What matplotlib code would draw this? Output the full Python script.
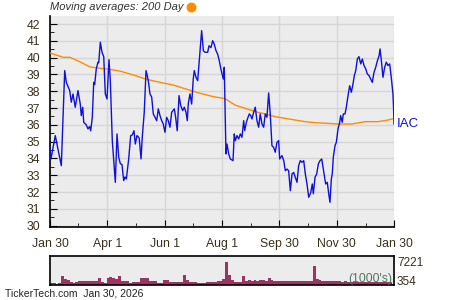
import matplotlib
matplotlib.use("Agg")
import matplotlib.pyplot as plt
import matplotlib.dates as mdates
import numpy as np
import pandas as pd

plt.rcParams["font.family"] = ["Liberation Sans", "DejaVu Sans"]

start = pd.Timestamp("2025-01-30")

# price (days since Jan 30 2025, close)
price_days = [0, 1, 5.6, 12, 15.6, 17.3, 20.9, 22.6, 24.4, 26.8, 29.7, 32.1, 33.2, 34.7, 35.8, 38.5, 40.3,
              42, 43.2, 44.9, 46.4, 47.4, 49.1, 50.9, 51.7, 53.4, 55.2, 57, 58.7, 60.5, 62.6, 64, 66.1,
              67.9, 69.3, 71.1, 72.9, 74.6, 76.4, 78.2, 79.6, 81, 83.5, 85.6, 87.3, 89.1, 90.5, 92.3,
              93.4, 94.7, 96.6, 97.9, 100, 101.9, 103.2, 104.3, 106.1, 107.9, 109.6, 111.4, 113.2, 114.9,
              116.7, 118.5, 120.2, 122, 123.8, 125.5, 127.3, 129.1, 131.9, 133.3, 135, 136.9, 138.7,
              140.8, 142.5, 144.3, 145.7, 146.7, 148.5, 150.3, 152, 153.1, 154.9, 156.7, 158.1, 159.2,
              160.9, 162.7, 164.5, 167.3, 168.7, 170.8, 172.6, 174.3, 176.1, 177.9, 179.6, 181.4, 183.9,
              184.9, 186.7, 187.8, 189.6, 191.3, 194.2, 195.5, 196.6, 198.4, 200.2, 201.9, 203.7, 205.5,
              206.6, 208.3, 210.1, 211.5, 213, 214.3, 216.1, 217.8, 219.6, 221.4, 223.1, 224.9, 226.7,
              228.4, 230.2, 232, 233.7, 235.5, 237.3, 239, 240.8, 242.6, 243.7, 246.1, 248, 249.7, 251.5,
              253.2, 255, 256.8, 258.5, 260.3, 262.1, 263.8, 265.6, 267.4, 269.2, 270.9, 272.7, 274.5,
              276.6, 278.3, 279.4, 281.2, 283, 284.7, 286.5, 288.3, 289.7, 290.7, 292.5, 294.2, 296,
              297.1, 298.5, 299.5, 300.6, 302.4, 303.8, 305.6, 307.4, 308.4, 310.1, 311.2, 313, 314.4,
              316.5, 318, 319.7, 321.5, 322.9, 324.4, 326.1, 327.8, 329.7, 331.4, 333.2, 335, 336.7,
              338.5, 340.3, 342, 343.8, 345.6, 347.4, 349.2, 350.2, 351.6, 353.3, 355.1, 356.8, 358.6,
              360.4, 362.1, 363.9, 364.5, 365]
price = [34.6, 33.97, 35.36, 33.57, 39.23, 38.53, 38.04, 37.35, 37.84, 37.05, 38.04, 37.24, 36.55, 37.05,
         36.15, 36.0, 35.76, 35.9, 35.65, 36.45, 38.53, 38.4, 39.33, 39.73, 39.7, 40.92, 40.32, 40.06,
         37.84, 37.54, 39.88, 38.63, 35.06, 33.67, 32.58, 35.46, 34.07, 33.7, 33.63, 32.68, 32.9, 32.78,
         33.97, 35.36, 35.4, 35.65, 34.86, 35.36, 35.3, 35.2, 33.97, 35.26, 36.75, 39.23, 38.93, 38.63,
         37.84, 37.65, 36.65, 36.45, 36.25, 36.95, 36.55, 36.25, 36.05, 35.56, 36.45, 36.25, 35.86,
         36.75, 36.95, 36.45, 35.65, 37.74, 37.15, 36.85, 37.05, 36.75, 36.25, 37.25, 37.84, 37.24,
         38.73, 39.23, 38.83, 38.63, 39.63, 40.42, 41.61, 40.42, 40.32, 40.32, 40.71, 40.6, 41.01, 40.8,
         40.42, 40.2, 39.82, 39.3, 38.73, 39.43, 34.27, 34.86, 34.27, 33.97, 33.87, 35.46, 35.06, 35.36,
         35.16, 35.46, 35.26, 36.25, 35.66, 36.15, 36.45, 36.65, 36.55, 36.35, 36.75, 37.05, 36.25,
         35.86, 36.65, 36.05, 35.86, 36.65, 36.45, 37.9, 36.65, 34.76, 34.66, 34.37, 34.96, 35.06,
         33.97, 34.17, 33.87, 33.27, 33.37, 33.27, 32.08, 33.08, 33.17, 32.88, 32.58, 33.57, 33.87,
         33.77, 33.87, 33.08, 32.48, 31.69, 31.95, 32.48, 31.9, 32.88, 33.08, 33.67, 33.87, 33.97,
         33.47, 33.08, 32.48, 32.58, 31.79, 31.39, 32.78, 33.08, 34.07, 34.76, 34.96, 35.76, 36.15,
         36.55, 36.15, 36.65, 36.65, 37.05, 37.84, 38.33, 37.94, 38.43, 38.93, 39.23, 39.92, 40.06,
         39.63, 39.92, 39.53, 39.33, 39.03, 38.93, 38.73, 38.53, 39.13, 39.43, 39.82, 40.12, 40.52,
         39.82, 38.83, 39.43, 39.73, 39.53, 39.63, 38.83, 37.84, 37.05, 36.05]

# 200 day moving average
ma_days = [0, 14.1, 21.2, 31.8, 42.4, 53.1, 63.7, 74.3, 88.4, 102.6, 116.7, 130.9, 145, 159.2, 173.3,
           185.7, 196.3, 206.9, 217.5, 228.1, 238.7, 249.3, 259.9, 270.5, 281.2, 291.8, 305.9, 320,
           334.2, 348.3, 358.9, 364.3]
ma = [40.28, 40.02, 40.02, 39.75, 39.45, 39.37, 39.3, 39.2, 38.97, 38.71, 38.53, 38.37, 38.12, 37.88,
      37.68, 37.56, 37.18, 36.99, 36.79, 36.65, 36.49, 36.39, 36.29, 36.19, 36.13, 36.1, 36.05, 36.05,
      36.19, 36.19, 36.29, 36.37]

# volume (1000's), every 3 days from Jan 30 2025
volume = [750, 650, 420, 700, 2830, 1780, 1500, 1000, 700, 1000, 1100, 1300, 1250, 1250, 1400, 1300,
          1350, 2200, 900, 750, 2200, 2400, 2200, 1900, 2830, 1300, 1250, 1200, 730, 900, 850, 950,
          2200, 2300, 2100, 1300, 1256, 1150, 730, 700, 1550, 1500, 900, 950, 900, 1000, 940, 3250,
          1466, 1000, 940, 850, 730, 700, 760, 940, 900, 1000, 900, 1100, 1200, 1780, 7221, 3250,
          1466, 940, 900, 1000, 2830, 1256, 1466, 1400, 1550, 1300, 1600, 1466, 1350, 2200, 1500,
          1256, 1200, 1300, 1150, 1256, 1350, 1200, 1256, 1100, 1300, 1256, 1200, 1350, 1256, 5970,
          1780, 1600, 1200, 1150, 1100, 1200, 1150, 1100, 1200, 1050, 1150, 1000, 940, 900, 1000, 940,
          850, 940, 900, 1000, 940, 900, 850, 940, 900, 1000, 940, 354]
vol_step = 3

major_ticks = ["2025-01-30", "2025-04-01", "2025-06-01", "2025-08-01", "2025-09-30", "2025-11-30", "2026-01-30"]
major_labels = ["Jan 30", "Apr 1", "Jun 1", "Aug 1", "Sep 30", "Nov 30", "Jan 30"]
minor_ticks = ["2025-03-01", "2025-05-01", "2025-07-01", "2025-08-31", "2025-10-31", "2025-12-31"]

price_dates = start + pd.to_timedelta(price_days, unit="D")
ma_dates = start + pd.to_timedelta(ma_days, unit="D")
vol_dates = start + pd.to_timedelta(np.arange(len(volume)) * vol_step, unit="D")

text_col = "#3b2f1a"
bg = "#ececec"
grid_col = "#d6d6d6"

fig = plt.figure(figsize=(4.5, 3.0), dpi=100)
ax = fig.add_axes([50 / 450, 1 - 227 / 300, 344 / 450, 211 / 300])
ax.set_facecolor(bg)
ax.plot(ma_dates, ma, color="#ff8c00", lw=1.0, zorder=3)
ax.plot(price_dates, price, color="#1010dd", lw=1.0, zorder=4)
x0, x1 = pd.Timestamp("2025-01-30"), pd.Timestamp("2026-01-30")
ax.set_xlim(x0, x1)
ax.set_ylim(29.92, 42.48)
ax.set_yticks(range(30, 43))
ax.set_yticks(np.arange(30.5, 42.5, 1.0), minor=True)
ax.set_xticks(pd.to_datetime(major_ticks))
ax.set_xticklabels(major_labels)
ax.set_xticks(pd.to_datetime(minor_ticks), minor=True)
ax.grid(True, which="major", color=grid_col, lw=1.0)
ax.set_axisbelow(True)
for s in ["top", "right"]:
    ax.spines[s].set_visible(False)
for s in ["left", "bottom"]:
    ax.spines[s].set_color("black")
    ax.spines[s].set_linewidth(1.2)
ax.tick_params(axis="both", which="both", direction="in", colors="black", labelcolor=text_col, labelsize=8.8)
ax.tick_params(axis="y", which="major", length=5, pad=7)
ax.tick_params(axis="y", which="minor", length=3)
ax.tick_params(axis="x", which="major", length=5, pad=8)
ax.tick_params(axis="x", which="minor", length=3)

ax.text(1.008, (price[-1] - 29.92) / (42.48 - 29.92), "IAC", transform=ax.transAxes,
        color="#1010dd", fontsize=9.5, va="center", ha="left")
fig.text(50 / 450, 1 - 7.5 / 300, "Moving averages: 200 Day", style="italic", color="#333333",
         fontsize=8, va="center", ha="left")
fig.patches.append(matplotlib.patches.Ellipse((191.5 / 450, 1 - 7.5 / 300), 8.5 / 450, 8.5 / 300,
                                              transform=fig.transFigure, color="#ff8c00", figure=fig))

vax = fig.add_axes([50 / 450, 1 - 285 / 300, 344 / 450, 29 / 300])
vax.set_facecolor(bg)
vax.bar(vol_dates, volume, width=vol_step, align="edge", color="#9b3363", lw=0)
vax.set_xlim(x0, x1)
vax.set_ylim(0, 9100)
vax.set_xticks([])
vax.set_yticks([])
for s in vax.spines.values():
    s.set_color("black")
    s.set_linewidth(1.2)
vax.text(0.995, 0.2, "(1000's)", transform=vax.transAxes, ha="right", va="center",
         color="#4a7a62", fontsize=8.7)
fig.text(397 / 450, 1 - 262.7 / 300, f"{max(volume)}", color=text_col, fontsize=8.5, va="center", ha="left")
fig.text(397 / 450, 1 - 282 / 300, f"{volume[-1]}", color=text_col, fontsize=8.5, va="center", ha="left")

fig.text(5 / 450, 1 - 294 / 300, "TickerTech.com  Jan 30, 2026", color="#222222", fontsize=7.5,
         va="center", ha="left")

fig.savefig("out.png", dpi=100)
